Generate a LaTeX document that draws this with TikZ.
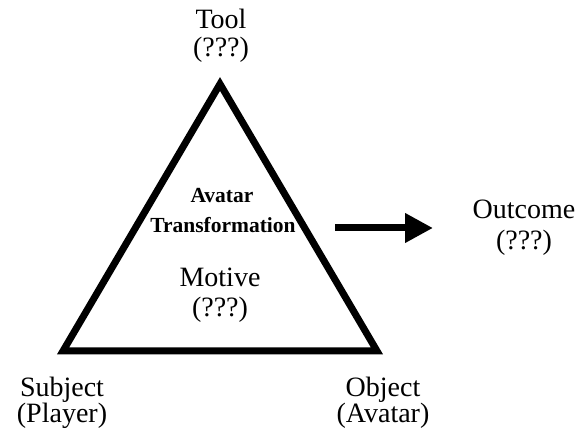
\documentclass[tikz,border=0pt]{standalone}
\usepackage{fontspec}
\setmainfont{Liberation Serif}
\usetikzlibrary{arrows.meta}
\begin{document}
\begin{tikzpicture}[x=1pt,y=-1pt,
  lbl/.style={anchor=base,inner sep=0pt,font=\fontsize{28}{32}\selectfont},
  blbl/.style={anchor=base,inner sep=0pt,font=\fontsize{21.5}{25}\selectfont\bfseries},
  tri/.style={line width=7pt,line join=miter},
  bigarrow/.style={line width=7pt,-{Triangle[length=28pt,width=28pt]}}]
\useasboundingbox (0,0) rectangle (576,430);
\coordinate (apex) at (220,84);
\coordinate (bl) at (63,351);
\coordinate (br) at (377,351);
\draw[tri] (apex) -- (bl) -- (br) -- cycle;
\node[lbl] (tool) at (221,29) {Tool};
\node[lbl] (toolq) at (221,57) {(???)};
\node[blbl] (avatar) at (222,203) {Avatar};
\node[blbl] (transf) at (223,233) {Transformation};
\node[lbl] (motive) at (220,287) {Motive};
\node[lbl] (motiveq) at (220,317) {(???)};
\node[lbl] (outcome) at (524,219) {Outcome};
\node[lbl] (outq) at (524,250) {(???)};
\node[lbl] (subject) at (62,396) {Subject};
\node[lbl] (player) at (62,423) {(Player)};
\node[lbl] (object) at (383,396) {Object};
\node[lbl] (avatar2) at (383,423) {(Avatar)};
\coordinate (as) at (335,228);
\coordinate (ae) at (433,228);
\draw[bigarrow] (as) -- (ae);
\end{tikzpicture}
\end{document}
